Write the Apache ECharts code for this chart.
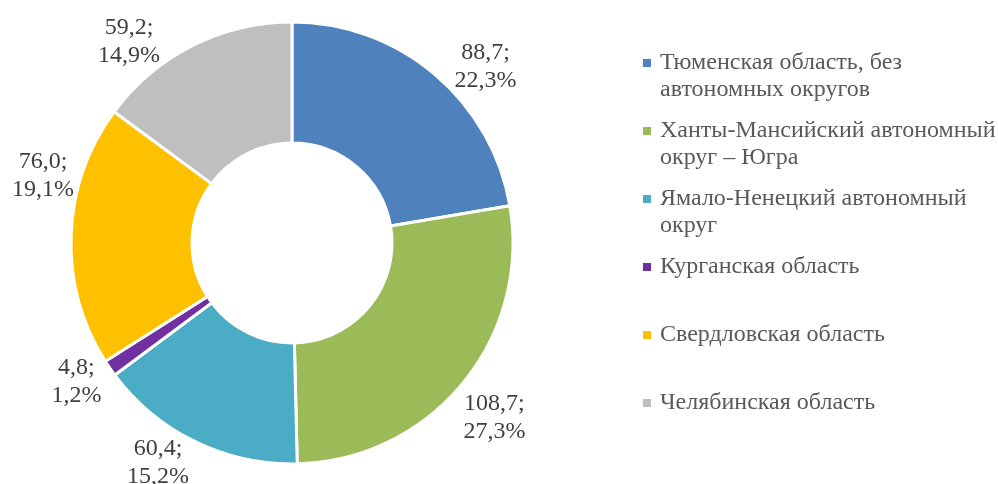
<!DOCTYPE html>
<html>
<head>
<meta charset="utf-8">
<title>Pie</title>
<script src="https://cdn.jsdelivr.net/npm/echarts@6/dist/echarts.min.js"></script>
<style>
  html, body { margin: 0; padding: 0; background: #fff; }
  #chart { width: 998px; height: 484px; }
</style>
</head>
<body>
<div id="chart"></div>
<script>
// данные
const categories = [
  'Тюменская область, без\nавтономных округов',
  'Ханты-Мансийский автономный\nокруг – Югра',
  'Ямало-Ненецкий автономный\nокруг',
  'Курганская область',
  'Свердловская область',
  'Челябинская область'
]
const values = [88.7, 108.7, 60.4, 4.8, 76.0, 59.2]
const colors = ['#4F81BD', '#9BBB59', '#4BACC6', '#7030A0', '#FFC000', '#BFBFBF']

// сдвиг подписей (как их расставил Excel), px
const labelNudge = [[6, 3], [-15, 25], [5, 8], [8, 6], [12, -59], [-21, 8]]

const serif = "'Liberation Serif', 'Times New Roman', serif"
const fmt = v => v.toFixed(1).replace('.', ',')

const chart = echarts.init(document.getElementById('chart'))

// маркеры легенды через rich-текст, чтобы квадрат стоял у первой строки
const rich = {
  t: { fontFamily: serif, fontSize: 24, lineHeight: 27, color: '#595959' },
  g: { width: 9 },
  g2: { width: 17 }
}
colors.forEach((c, i) => {
  rich['m' + i] = { width: 8, height: 8, backgroundColor: c }
})

chart.setOption({
  animation: false,
  color: colors,
  legend: {
    orient: 'vertical',
    left: 633,
    top: 46,
    icon: 'none',
    itemWidth: 0,
    itemGap: 17,
    selectedMode: false,
    data: categories,
    formatter: name => {
      const i = categories.indexOf(name)
      const lines = name.split('\n')
      const first = `{m${i}|}{g|}{t|${lines[0]}}`
      const second = `{g2|}{t|${lines[1] || ' '}}`
      return first + '\n' + second
    },
    textStyle: { rich }
  },
  series: [{
    type: 'pie',
    center: [292, 243],
    radius: [100, 221],
    startAngle: 90,
    clockwise: true,
    data: categories.map((name, i) => ({ name, value: values[i] })),
    itemStyle: { borderColor: '#fff', borderWidth: 3 },
    label: {
      show: true,
      position: 'outside',
      overflow: 'none',
      formatter: p => `{a|${fmt(p.value)};}\n{a|${p.percent.toFixed(1).replace('.', ',')}%}`,
      rich: {
        a: { fontFamily: serif, fontSize: 24, lineHeight: 28, color: '#404040', align: 'center' }
      }
    },
    labelLine: { show: false, length: 14, length2: 0 },
    labelLayout: p => ({ dx: labelNudge[p.dataIndex][0], dy: labelNudge[p.dataIndex][1] }),
    emphasis: { disabled: true }
  }]
})
</script>
</body>
</html>
